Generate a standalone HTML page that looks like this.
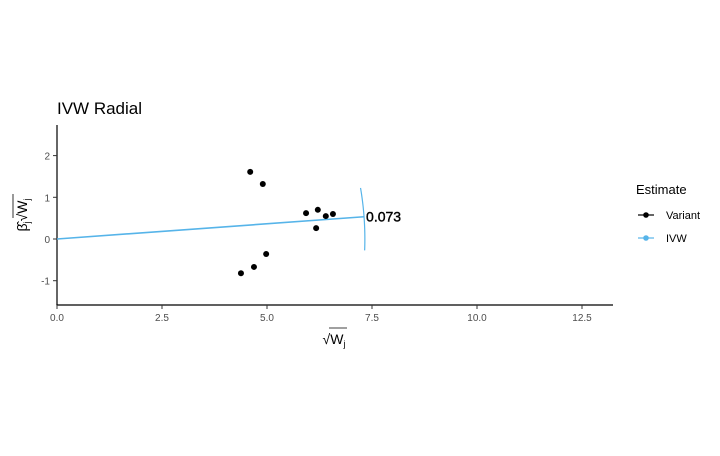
<!DOCTYPE html>
<html><head><meta charset="utf-8"><style>
body{margin:0;background:#fff;}
svg{font-family:"Liberation Sans",sans-serif;}
</style></head><body>
<svg id="c" width="720" height="451">
<rect width="720" height="451" fill="#fff"/>
<text x="57" y="114" font-size="17" fill="#000">IVW Radial</text>
<g id="plot"></g>
<g transform="translate(27,215) rotate(-90)">
<text x="0" y="0" font-size="14" text-anchor="middle">β̂<tspan font-size="9" dy="3">j</tspan><tspan dy="-3">√W</tspan><tspan font-size="9" dy="3">j</tspan></text>
<line x1="-3" y1="-14" x2="21" y2="-14" stroke="#000" stroke-width="0.8"/>
</g>
<g>
<text x="334" y="344" font-size="14" text-anchor="middle">√W<tspan font-size="9" dy="3">j</tspan></text>
<line x1="329" y1="328" x2="347" y2="328" stroke="#000" stroke-width="0.8"/>
</g>
<g>
<text x="636" y="194" font-size="13">Estimate</text>
<g>
<line x1="638" y1="215" x2="654" y2="215" stroke="#000" stroke-width="1.2"/>
<circle cx="646" cy="215" r="2.8" fill="#000"/>
<text x="666" y="219" font-size="11">Variant</text></g>
<g>
<line x1="638" y1="238" x2="654" y2="238" stroke="#56B4E9" stroke-width="1.2"/>
<circle cx="646" cy="238" r="2.8" fill="#56B4E9"/>
<text x="666" y="242" font-size="11">IVW</text></g>
</g>
</svg>
<script>
const xs=[4.6,4.9,5.93,6.21,6.4,6.57,6.17,4.98,4.69,4.38];
const ys=[1.61,1.32,0.62,0.70,0.55,0.60,0.26,-0.36,-0.67,-0.82];
const ivwSlope=[0.073];
const xTicks=[0,2.5,5,7.5,10,12.5];
const yTicks=[-1,0,1,2];
const X=v=>57+v*42, Y=v=>239-v*41.7;
const ns="http://www.w3.org/2000/svg", g=document.getElementById('plot');
function mk(t,a){const e=document.createElementNS(ns,t);for(const k in a)e.setAttribute(k,a[k]);g.appendChild(e);return e;}
let ax=mk('line',{x1:57,y1:125,x2:57,y2:305,stroke:'#000','stroke-width':1.2});


let bx=mk('line',{x1:56.4,y1:305,x2:613,y2:305,stroke:'#000','stroke-width':1.2});


xTicks.forEach(v=>{mk('line',{x1:X(v),y1:305,x2:X(v),y2:309,stroke:'#333'});
const t=mk('text',{x:X(v),y:321,'font-size':10,'text-anchor':'middle',fill:'#4d4d4d'});t.textContent=v.toFixed(1);

});
yTicks.forEach(v=>{mk('line',{x1:53,y1:Y(v),x2:57,y2:Y(v),stroke:'#333'});
const t=mk('text',{x:50,y:Y(v)+4,'font-size':10,'text-anchor':'end',fill:'#4d4d4d'});t.textContent=v;

});
const b=ivwSlope[0];
const R=7.33;
const th=Math.atan(b), ex=R*Math.cos(th), ey=R*Math.sin(th);
let ln=mk('line',{x1:X(0),y1:Y(0),x2:X(ex),y2:Y(ey),stroke:'#56B4E9','stroke-width':1.6});


let d='';for(let a=th-0.11;a<=th+0.1;a+=0.005){d+=(d?'L':'M')+X(R*Math.cos(a))+','+Y(R*Math.sin(a));}
let arc=mk('path',{d:d,fill:'none',stroke:'#56B4E9','stroke-width':1.2});


let lbl=mk('text',{x:X(ex)+2,y:Y(ey)+5,'font-size':14,fill:'#000',stroke:'#000','stroke-width':0.4});lbl.textContent=b.toFixed(3);


xs.forEach((x,i)=>{const c=mk('circle',{cx:X(x),cy:Y(ys[i]),r:3,fill:'#000'});

});
</script>
</body></html>
